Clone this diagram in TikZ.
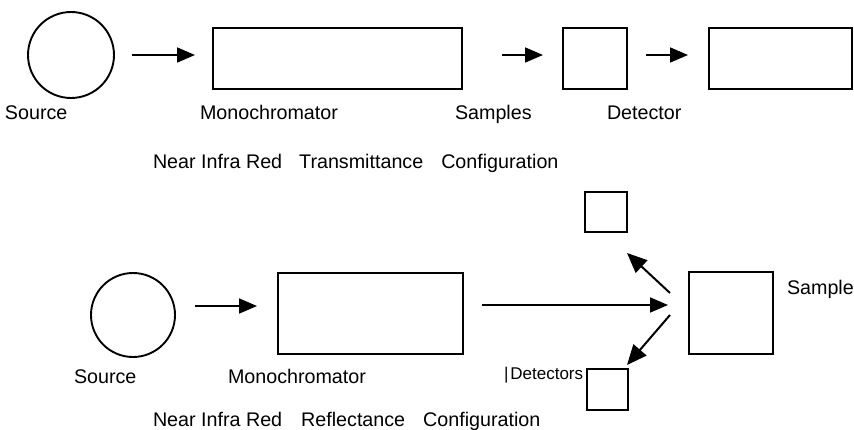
\documentclass[tikz,border=0pt]{standalone}
\usepackage{fontspec}
\setmainfont{Liberation Sans}
\usetikzlibrary{arrows.meta}
\begin{document}
\begin{tikzpicture}[x=1pt,y=-1pt,
  every node/.style={inner sep=0pt, outer sep=0pt},
  part/.style={draw, line width=1.9pt, rectangle},
  lamp/.style={draw, line width=1.9pt, circle},
  lbl/.style={anchor=base west, font=\fontsize{19.7}{22}\selectfont},
  arr/.style={line width=1.8pt, -{Triangle[length=18pt,width=15pt]}},
  darr/.style={line width=2pt, -{Triangle[length=20pt,width=17pt]}}]
\useasboundingbox (0,0) rectangle (854,430);

% ---- transmittance configuration ----
\node[lamp, minimum size=86pt] (src1) at (71,55) {};
\node[part, minimum width=249pt, minimum height=61pt] (mono1) at (337.5,58.5) {};
\node[part, minimum width=64pt, minimum height=61pt] (samp1) at (595,58.5) {};
\node[part, minimum width=143pt, minimum height=61pt] (det1) at (780.5,58.5) {};

\draw[arr, shorten <=18pt, shorten >=18pt] (src1.east) -- (mono1.west |- src1.east);
\draw[arr, shorten <=40pt, shorten >=20pt] (mono1.east |- src1.east) -- (samp1.west |- src1.east);
\draw[arr, shorten <=19pt, shorten >=21pt] (samp1.east |- src1.east) -- (det1.west |- src1.east);

\node[lbl] (t-src) at (5,120) {Source};
\node[lbl] (t-mono) at (200,120) {Monochromator};
\node[lbl] (t-samp) at (455,120) {Samples};
\node[lbl] (t-det) at (607,120) {Detector};
\node[lbl] (t-title1) at (153,169) {Near Infra Red\hspace{17pt}Transmittance\hspace{18pt}Configuration};

% ---- reflectance configuration ----
\node[lamp, minimum size=84pt] (src2) at (133,315) {};
\node[part, minimum width=185pt, minimum height=81pt] (mono2) at (370.5,313.5) {};
\node[part, minimum width=84pt, minimum height=82pt] (samp2) at (731,313) {};
\node[part, minimum width=42pt, minimum height=40pt] (detA) at (606,212) {};
\node[part, minimum width=41pt, minimum height=41pt] (detB) at (607.5,389.5) {};

\draw[arr, shorten <=20pt, shorten >=21pt] (src2.east |- 0,306) -- (mono2.west |- 0,306);
\draw[arr, shorten <=19pt, shorten >=21pt] (mono2.east |- 0,305) -- (samp2.west |- 0,305);

\coordinate (upfrom) at (670,293);
\coordinate (upto) at (627,253);
\coordinate (dnfrom) at (670,315);
\coordinate (dnto) at (627,365);
\draw[darr] (upfrom) -- (upto);
\draw[darr] (dnfrom) -- (dnto);

\node[lbl] (b-src) at (74,383) {Source};
\node[lbl] (b-mono) at (228,383) {Monochromator};
\node[lbl] (b-samp) at (787,295) {Sample};
\node[lbl, font=\fontsize{17}{20}\selectfont] (b-det) at (504,379) {\textbar\hspace{2pt}Detectors};
\node[lbl] (b-title) at (153,426) {Near Infra Red\hspace{19pt}Reflectance\hspace{18pt}Configuration};
\end{tikzpicture}
\end{document}
